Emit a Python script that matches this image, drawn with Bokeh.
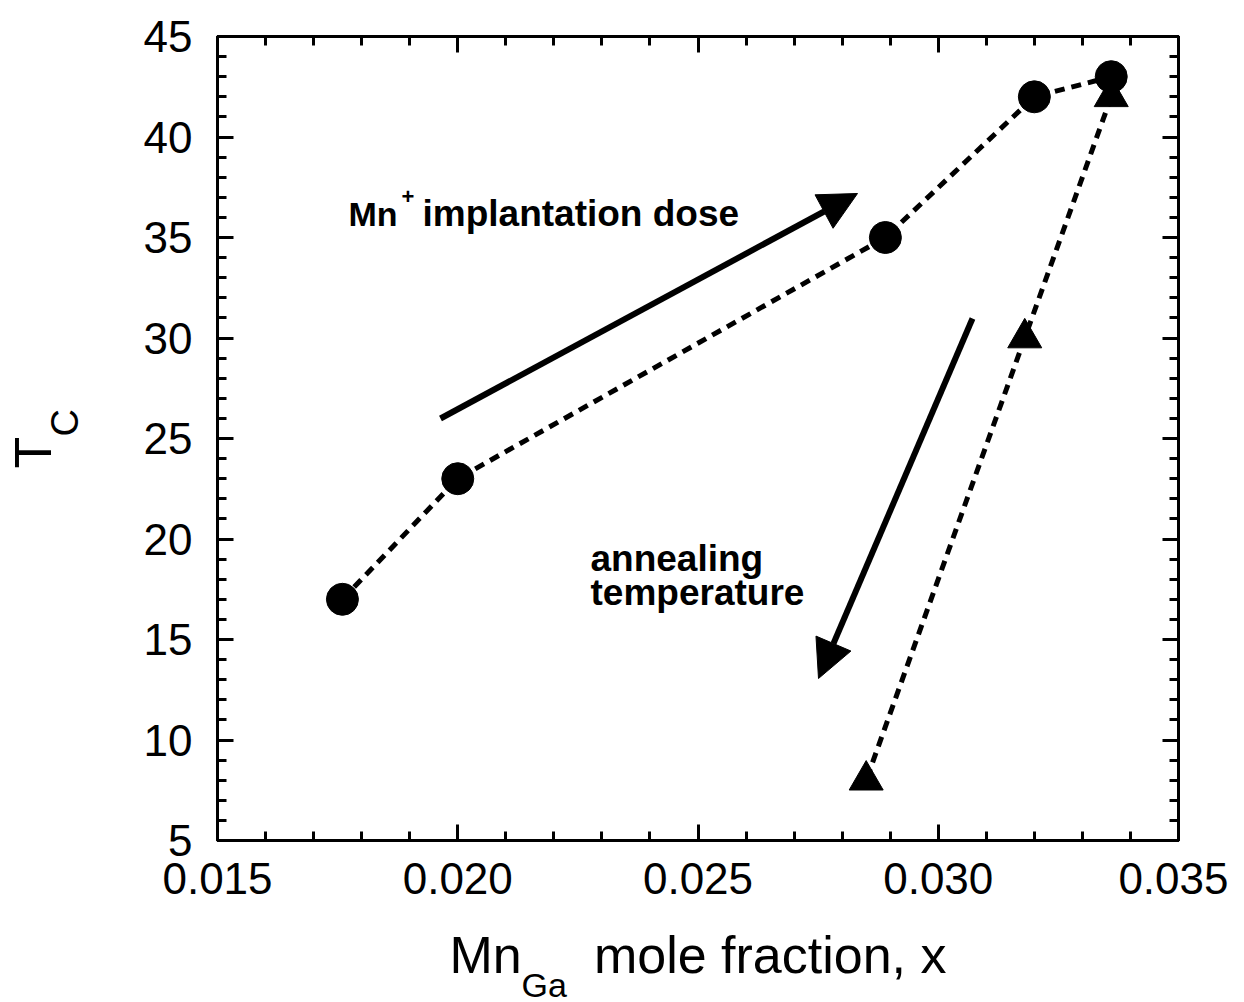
import math
from bokeh.plotting import figure
from bokeh.models import (Range1d, LinearAxis, Label, Arrow, NormalHead, Title,
                          SingleIntervalTicker, NumeralTickFormatter, CustomJSTickFormatter)
from bokeh.embed import file_html
from bokeh.resources import INLINE

# ---- data ----
dose_x = [0.0176, 0.0200, 0.0289, 0.0320, 0.0336]
dose_tc = [17, 23, 35, 42, 43]
anneal_x = [0.0336, 0.0318, 0.0285]
anneal_tc = [42, 30, 8]

X_RANGE = (0.015, 0.035)
Y_RANGE = (5, 45)

FRAME_L, FRAME_T, FRAME_W, FRAME_H = 217, 36, 961, 804
FRAME_B = FRAME_T + FRAME_H


def px2x(px):
    # picture pixel -> data x
    return X_RANGE[0] + (px - FRAME_L) / FRAME_W * (X_RANGE[1] - X_RANGE[0])


def px2y(py):
    return Y_RANGE[1] - (py - FRAME_T) / FRAME_H * (Y_RANGE[1] - Y_RANGE[0])


p = figure(frame_width=FRAME_W, frame_height=FRAME_H,
           x_range=Range1d(*X_RANGE), y_range=Range1d(*Y_RANGE),
           output_backend="svg", toolbar_location=None,
           min_border_left=FRAME_L, min_border_top=FRAME_T,
           min_border_right=50, min_border_bottom=162)
p.xgrid.visible = False
p.ygrid.visible = False
p.outline_line_color = "black"
p.outline_line_width = 3
p.background_fill_color = "white"
p.border_fill_color = "white"

FONT = "Liberation Sans"
NB = "\u00a0"


def style_axis(ax, standoff):
    ax.axis_line_width = 3
    ax.axis_line_color = "black"
    ax.major_tick_in = 16
    ax.major_tick_out = 0
    ax.minor_tick_in = 9
    ax.minor_tick_out = 0
    ax.major_tick_line_width = 3
    ax.minor_tick_line_width = 3
    ax.major_tick_line_color = "black"
    ax.minor_tick_line_color = "black"
    ax.major_label_text_font = FONT
    ax.major_label_text_color = "black"
    ax.major_label_text_font_size = "44px"
    ax.major_label_standoff = standoff


p.xaxis.ticker = SingleIntervalTicker(interval=0.005, num_minor_ticks=5)
p.xaxis.formatter = NumeralTickFormatter(format="0.000")
p.yaxis.ticker = SingleIntervalTicker(interval=5, num_minor_ticks=5)
style_axis(p.xaxis[0], 22)
style_axis(p.yaxis[0], 25)

# x axis title: "Mn_Ga mole fraction, x" (subscript added as a Title below)
p.xaxis.axis_label = "Mn" + NB * 5 + "mole fraction, x"
p.xaxis.axis_label_text_font = FONT
p.xaxis.axis_label_text_font_size = "52px"
p.xaxis.axis_label_text_font_style = "normal"
p.xaxis.axis_label_text_color = "black"
p.xaxis.axis_label_standoff = 29

# y axis title "T_C": the subscript is the axis label, "T" is a Title outside it
p.yaxis.axis_label = NB * 3 + "C"
p.yaxis.axis_label_text_font = FONT
p.yaxis.axis_label_text_font_size = "38px"
p.yaxis.axis_label_text_font_style = "normal"
p.yaxis.axis_label_text_color = "black"
p.yaxis.axis_label_standoff = 55

blank = CustomJSTickFormatter(code="return ''")
top = LinearAxis(ticker=SingleIntervalTicker(interval=0.005, num_minor_ticks=5), formatter=blank)
right = LinearAxis(ticker=SingleIntervalTicker(interval=5, num_minor_ticks=5), formatter=blank)
style_axis(top, 0)
style_axis(right, 0)
p.add_layout(top, "above")
p.add_layout(right, "right")

# subscript "Ga" of the x title
p.add_layout(Title(text="Ga", text_font=FONT, text_font_size="34px", text_font_style="normal",
                   text_color="black", align="left", offset=521 - FRAME_L,
                   vertical_align="top", standoff=-41), "below")
p.add_layout(Title(text="T", text_font=FONT, text_font_size="52px", text_font_style="normal",
                   text_color="black", align="left", offset=FRAME_B - 468,
                   standoff=-42), "left")

# ---- data marks ----
p.line(dose_x, dose_tc, line_width=5, line_color="black", line_dash="10 7")
p.line(anneal_x, anneal_tc, line_width=5, line_color="black", line_dash="10 7")
p.scatter(anneal_x, anneal_tc, marker="triangle", size=34, color="black")
p.scatter(dose_x, dose_tc, marker="circle", size=32, color="black")

# ---- arrows ----
p.add_layout(Arrow(x_start=px2x(440), y_start=px2y(418), x_end=px2x(857), y_end=px2y(193),
                   line_width=6, line_color="black",
                   end=NormalHead(size=38, fill_color="black", line_color="black", line_width=1)))
p.add_layout(Arrow(x_start=px2x(972), y_start=px2y(318), x_end=px2x(818), y_end=px2y(678),
                   line_width=6, line_color="black",
                   end=NormalHead(size=38, fill_color="black", line_color="black", line_width=1)))


def lab(px, py, text, size, bold=False):
    p.add_layout(Label(x=px2x(px), y=px2y(py), text=text, text_font=FONT,
                       text_font_size=f"{size}px", text_color="black",
                       text_font_style="bold" if bold else "normal",
                       text_align="left", text_baseline="alphabetic"))


# annotations in plot
lab(348, 213, "Mn", 34, bold=True)
lab(401, 196, "+", 22, bold=True)
lab(422, 213, "implantation dose", 37, bold=True)
lab(590, 558, "annealing", 37, bold=True)
lab(590, 592, "temperature", 37, bold=True)

open("out.html", "w").write(file_html(p, INLINE))
